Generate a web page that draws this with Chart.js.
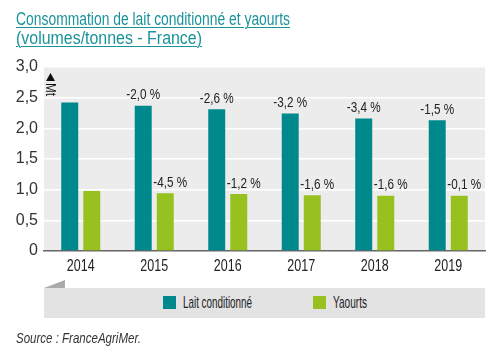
<!DOCTYPE html>
<html><head><meta charset="utf-8">
<script src="https://cdn.jsdelivr.net/npm/chart.js@4"></script>
<style>
html,body{margin:0;padding:0;background:#fff;}
#wrap{position:relative;width:500px;height:355px;overflow:hidden;}
#c{position:absolute;left:0;top:0;}
.tl{position:absolute;left:16px;color:#1a939a;font-family:"Liberation Sans",sans-serif;font-size:17.5px;line-height:19px;transform-origin:0 0;white-space:nowrap;text-decoration:underline;text-decoration-thickness:1.2px;text-underline-offset:2px;}
.band{position:absolute;left:44px;top:288px;width:441px;height:30px;background:#e3e3e3;}
.tab{position:absolute;left:44px;top:280px;width:0;height:0;border-left:21px solid transparent;border-bottom:8px solid #aaa;}
.leg{position:absolute;top:295px;font-family:"Liberation Sans",sans-serif;font-size:17px;color:#222;line-height:16px;transform-origin:0 0;white-space:nowrap;}
.sw{position:absolute;top:296px;width:13px;height:13px;}
.src{position:absolute;left:16px;top:330px;font-family:"Liberation Sans",sans-serif;font-style:italic;font-size:14px;color:#333;transform-origin:0 0;white-space:nowrap;}
</style></head>
<body><div id="wrap">
<canvas id="c" width="500" height="355"></canvas>
<div class="tl" style="top:10px" data-w="274">Consommation de lait conditionné et yaourts</div>
<div class="tl" style="top:29px" data-w="186">(volumes/tonnes - France)</div>
<div class="tab"></div>
<div class="band"></div>
<div class="sw" style="left:163px;background:#00898c"></div>
<div class="leg" style="left:183px" data-w="69">Lait conditionné</div>
<div class="sw" style="left:313px;background:#97c11f"></div>
<div class="leg" style="left:333px" data-w="34">Yaourts</div>
<div class="src" data-w="125">Source : FranceAgriMer.</div>
</div>
<script>
const years = ["2014","2015","2016","2017","2018","2019"];
const lait = [2.42, 2.37, 2.31, 2.24, 2.16, 2.13];
const yaourts = [0.98, 0.94, 0.93, 0.91, 0.90, 0.90];
const laitLabels = ["", "-2,0 %", "-2,6 %", "-3,2 %", "-3,4 %", "-1,5 %"];
const yaourtsLabels = ["", "-4,5 %", "-1,2 %", "-1,6 %", "-1,6 %", "-0,1 %"];
const yTicks = [0, 0.5, 1, 1.5, 2, 2.5, 3];

// fit HTML text blocks horizontally (condensed look)
document.querySelectorAll('[data-w]').forEach(el => {
  const target = +el.dataset.w;
  const w = el.getBoundingClientRect().width;
  el.style.transform = 'scaleX(' + (target / w) + ')';
});

const FONT = '"Liberation Sans",sans-serif';
const SQ = 0.78;

function narrowText(ctx, text, x, y, size) {
  ctx.save();
  ctx.font = size + 'px ' + FONT;
  ctx.translate(x, y);
  ctx.scale(SQ, 1);
  ctx.fillText(text, 0, 0);
  ctx.restore();
}

const bgPlugin = {
  id: 'bg',
  beforeDraw(chart) {
    const {ctx, chartArea: a} = chart;
    ctx.save();
    ctx.fillStyle = '#ececec';
    ctx.fillRect(a.left, a.top, a.right - a.left, a.bottom - a.top);
    ctx.restore();
  },
  afterDraw(chart) {
    const {ctx} = chart;
    const labels = [laitLabels, yaourtsLabels];
    const shift = [0, 5];
    ctx.save();
    ctx.fillStyle = '#222';
    ctx.textAlign = 'center';
    ctx.textBaseline = 'bottom';
    chart.data.datasets.forEach((ds, di) => {
      chart.getDatasetMeta(di).data.forEach((bar, i) => {
        const t = labels[di][i];
        if (t) narrowText(ctx, t, bar.x + shift[di], bar.y - 3, 15);
      });
    });
    // x category labels, placed by the x scale
    const xs = chart.scales.x;
    ctx.textBaseline = 'middle';
    years.forEach((y, i) => narrowText(ctx, y, xs.getPixelForTick(i), 267, 16));
    // unit marker
    ctx.fillStyle = '#111';
    ctx.beginPath();
    ctx.moveTo(46, 81); ctx.lineTo(55, 81); ctx.lineTo(50.5, 73); ctx.closePath();
    ctx.fill();
    ctx.translate(50.5, 83);
    ctx.rotate(Math.PI / 2);
    ctx.textAlign = 'left';
    ctx.textBaseline = 'middle';
    ctx.scale(SQ, 1);
    ctx.font = '15px ' + FONT;
    ctx.fillText('Mt', 0, 0);
    ctx.restore();
  }
};

new Chart(document.getElementById('c'), {
  type: 'bar',
  data: {
    labels: years,
    datasets: [
      {label: 'Lait conditionné', data: lait, backgroundColor: '#00898c', borderWidth: 0,
       categoryPercentage: 0.6, barPercentage: 0.77},
      {label: 'Yaourts', data: yaourts, backgroundColor: '#97c11f', borderWidth: 0,
       categoryPercentage: 0.6, barPercentage: 0.77}
    ]
  },
  options: {
    responsive: false,
    animation: false,
    layout: {padding: {left: 0, top: 67, right: 15, bottom: 0}},
    plugins: {legend: {display: false}, tooltip: {enabled: false}, title: {display: false}},
    scales: {
      x: {
        grid: {display: false, drawTicks: false},
        border: {display: true, color: '#666', width: 1.5},
        ticks: {display: false},
        afterFit(s) { s.height = 104; }
      },
      y: {
        min: 0, max: 3,
        afterBuildTicks(s) { s.ticks = yTicks.map(v => ({value: v})); },
        grid: {color: '#ffffff', lineWidth: 1.5, drawTicks: false},
        border: {display: false},
        ticks: {color: '#333', padding: 6, font: {family: FONT, size: 16},
          callback: v => v === 0 ? '0' : v.toFixed(1).replace('.', ',')},
        afterFit(s) { s.width = 44; }
      }
    }
  },
  plugins: [bgPlugin]
});
</script>
</body></html>
